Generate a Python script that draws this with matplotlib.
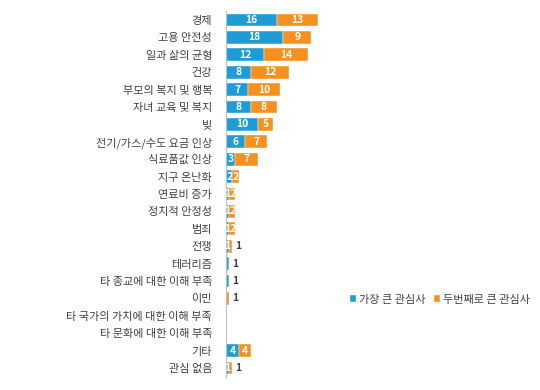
import matplotlib.pyplot as plt
import numpy as np

plt.rcParams['font.family'] = ['Noto Sans CJK KR', 'DejaVu Sans']
plt.rcParams['font.size'] = 8

categories = ['경제', '고용 안전성', '일과 삶의 균형', '건강', '부모의 복지 및 행복',
              '자녀 교육 및 복지', '빚', '전기/가스/수도 요금 인상', '식료품값 인상',
              '지구 온난화', '연료비 증가', '정치적 안정성', '범죄', '전쟁', '테러리즘',
              '타 종교에 대한 이해 부족', '이민', '타 국가의 가치에 대한 이해 부족',
              '타 문화에 대한 이해 부족', '기타', '관심 없음']
first = [16, 18, 12, 8, 7, 8, 10, 6, 3, 2, 1, 1, 1, 1, 1, 1, 0, 0, 0, 4, 1]
second = [13, 9, 14, 12, 10, 8, 5, 7, 7, 2, 2, 2, 2, 1, 0, 0, 1, 0, 0, 4, 1]
series_names = ['가장 큰 관심사', '두번째로 큰 관심사']

blue = '#1E9CD7'
orange = '#F7901E'

fig = plt.figure(figsize=(5.4, 3.9), dpi=100)
ax = fig.add_axes([0.4185, 0.034, 0.56, 0.937])

y = np.arange(len(categories))
first = np.array(first)
second = np.array(second)

ax.barh(y, first, height=0.74, color=blue, edgecolor='white', linewidth=0.3,
        label=series_names[0])
ax.barh(y, second, left=first, height=0.74, color=orange, edgecolor='white',
        linewidth=0.3, label=series_names[1])

for i in range(len(categories)):
    segs = [(0, first[i]), (first[i], second[i])]
    last = 1 if second[i] > 0 else 0
    for k, (start, val) in enumerate(segs):
        if val == 0:
            continue
        if val == 1 and k == last:
            ax.text(first[i] + second[i] + 0.9, y[i], '1', va='center', ha='left',
                    fontsize=7.5, fontweight='bold', color='#404040')
        else:
            ax.text(start + val / 2, y[i], str(val), va='center', ha='center',
                    fontsize=7.5, fontweight='bold', color='white')

ax.set_yticks(y)
ax.set_yticklabels(categories, color='#404040', fontsize=8)
ax.set_ylim(len(categories) - 0.5, -0.5)
ax.set_xlim(0, 95.5)
ax.set_xticks([])
ax.tick_params(axis='y', length=0, pad=10)
for s in ['top', 'right', 'bottom']:
    ax.spines[s].set_visible(False)
ax.spines['left'].set_color('#BFBFBF')
ax.spines['left'].set_linewidth(0.8)

fig.legend(loc='center', bbox_to_anchor=(0.815, 0.232), ncol=2, frameon=False,
           handlelength=0.5, handleheight=0.5, handletextpad=0.3,
           columnspacing=0.8, fontsize=8, labelcolor='#404040')

fig.savefig('out.png', dpi=100)
